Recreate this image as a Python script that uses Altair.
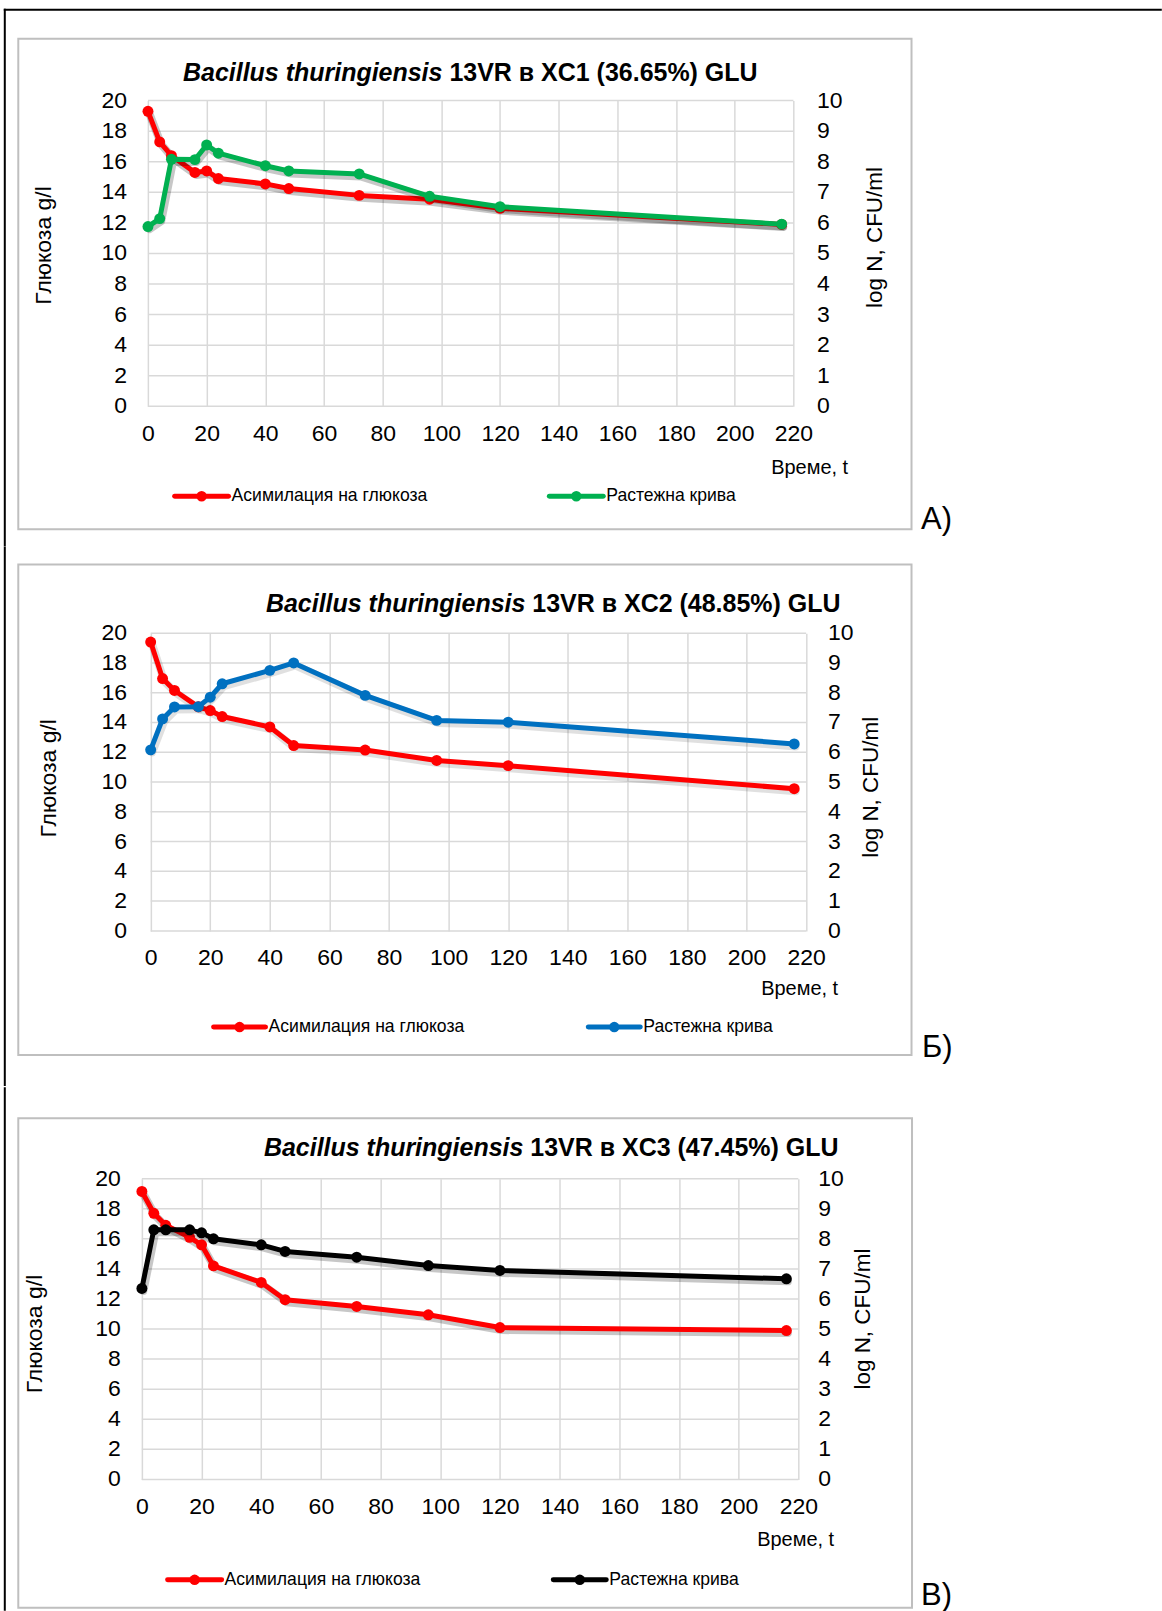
import altair as alt
import pandas as pd

# ---------------- data ----------------
time_h = [0, 4, 8, 16, 20, 24, 40, 48, 72, 96, 120, 216]

glucose_xc1 = [19.3, 17.3, 16.4, 15.3, 15.4, 14.9, 14.55, 14.25, 13.8, 13.55, 12.95, 11.9]
growth_xc1 = [5.88, 6.14, 8.08, 8.07, 8.55, 8.28, 7.87, 7.70, 7.60, 6.87, 6.53, 5.96]

glucose_xc2 = [19.4, 16.95, 16.15, 15.05, 14.8, 14.4, 13.7, 12.45, 12.15, 11.45, 11.1, 9.55]
growth_xc2 = [6.08, 7.12, 7.52, 7.53, 7.85, 8.3, 8.75, 9.0, 7.91, 7.07, 7.01, 6.28]

glucose_xc3 = [19.15, 17.7, 16.9, 16.1, 15.6, 14.2, 13.1, 11.95, 11.5, 10.95, 10.1, 9.9]
growth_xc3 = [6.35, 8.3, 8.3, 8.3, 8.2, 8.0, 7.8, 7.58, 7.39, 7.11, 6.95, 6.67]

x_ticks = [0, 20, 40, 60, 80, 100, 120, 140, 160, 180, 200, 220]
y_left_ticks = [0, 2, 4, 6, 8, 10, 12, 14, 16, 18, 20]
y_right_ticks = [0, 1, 2, 3, 4, 5, 6, 7, 8, 9, 10]

title_italic = ["Bacillus thuringiensis", "Bacillus thuringiensis", "Bacillus thuringiensis"]
title_rest = ["13VR в XC1 (36.65%) GLU", "13VR в XC2 (48.85%) GLU", "13VR в XC3 (47.45%) GLU"]
panel_tags = ["А)", "Б)", "В)"]
series_names = ["Асимилация на глюкоза", "Растежна крива"]
y_left_title = "Глюкоза g/l"
y_right_title = "log N, CFU/ml"
x_title = "Време, t"

glucose_color = "#FF0000"
growth_colors = ["#00B050", "#0070C0", "#000000"]
grid_color = "#D9D9D9"

# ---------------- layout (page pixels) ----------------
FONT = "Liberation Sans"
X0 = 141.2  # common group origin of the three panels
LAYOUT = [
    dict(pl=147.3, pr=793.3, py=100, h=306, box=(17.5, 38, 911.5, 529), seg=(8, 546), top=True,
         title_y=72, title_split=(442, 449), ylab=(43, 245), yrlab=(875, 237), xlab=(771, 468),
         leg_y=496, leg1=(174, 228), leg2=(549, 603), tag=(921, 520), shadow=0.22,
         lpad=21, rpad=23.5),
    dict(pl=150, pr=806, py=632.7, h=298, box=(17.5, 564, 911.5, 1055), seg=(546, 1086), top=False,
         title_y=604, title_split=(525, 532), ylab=(48, 778), yrlab=(871, 787), xlab=(761, 989),
         leg_y=1027, leg1=(213, 265), leg2=(588, 640), tag=(922, 1048), shadow=0.12,
         lpad=23.6, rpad=22),
    dict(pl=141.2, pr=798.2, py=1177.5, h=301, box=(17.5, 1117, 912, 1607), seg=(1086, 1610), top=False,
         title_y=1147, title_split=(523, 530), ylab=(34, 1333), yrlab=(863, 1318), xlab=(757, 1539),
         leg_y=1579, leg1=(167, 221), leg2=(553, 606), tag=(921, 1595), shadow=0.22,
         lpad=21, rpad=20),
]


def build_panel(k, glucose, growth, gcolor):
    L = LAYOUT[k]
    oy = L["py"]
    dx = L["pl"] - X0
    width = L["pr"] - X0

    def X(v):
        return alt.value(v - X0)

    def Y(v):
        return alt.value(v - oy)

    one = pd.DataFrame({"k": [0]})
    df = pd.DataFrame({"t": time_h, "glucose": glucose, "growth": growth})
    left_df = pd.DataFrame({"v": y_left_ticks})
    right_df = pd.DataFrame({"v": y_right_ticks})
    base = alt.Chart(df)

    decor = []
    # page frame (black), drawn as thin filled rects so that their bounds are exact
    decor.append(alt.Chart(one).mark_rect(color="black", opacity=1).encode(
        x=X(3), x2=X(5), y=Y(L["seg"][0]), y2=Y(L["seg"][1])))
    if L["top"]:
        decor.append(alt.Chart(one).mark_rect(color="black", opacity=1).encode(
            x=X(3), x2=X(1162), y=Y(8), y2=Y(10)))
    # chart box
    bx1, by1, bx2, by2 = L["box"]
    decor.append(alt.Chart(one).mark_rect(fillOpacity=0, stroke="#BFBFBF", strokeWidth=2).encode(
        x=X(bx1), x2=X(bx2), y=Y(by1), y2=Y(by2)))
    # title
    decor.append(alt.Chart(one).mark_text(
        text=title_italic[k], font=FONT, fontSize=25, fontWeight="bold", fontStyle="italic",
        align="right", baseline="middle", color="black").encode(
        x=X(L["title_split"][0]), y=Y(L["title_y"])))
    decor.append(alt.Chart(one).mark_text(
        text=title_rest[k], font=FONT, fontSize=25, fontWeight="bold",
        align="left", baseline="middle", color="black").encode(
        x=X(L["title_split"][1]), y=Y(L["title_y"])))
    # axis titles
    decor.append(alt.Chart(one).mark_text(
        text=y_left_title, font=FONT, fontSize=23, angle=270, align="center", baseline="middle",
        color="black").encode(x=X(L["ylab"][0]), y=Y(L["ylab"][1])))
    decor.append(alt.Chart(one).mark_text(
        text=y_right_title, font=FONT, fontSize=22.5, angle=270, align="center", baseline="middle",
        color="black").encode(x=X(L["yrlab"][0]), y=Y(L["yrlab"][1])))
    decor.append(alt.Chart(one).mark_text(
        text=x_title, font=FONT, fontSize=20, align="left", baseline="middle",
        color="black").encode(x=X(L["xlab"][0]), y=Y(L["xlab"][1])))
    # legend
    for (lx1, lx2), col, name in [(L["leg1"], glucose_color, series_names[0]),
                                   (L["leg2"], gcolor, series_names[1])]:
        decor.append(alt.Chart(one).mark_rule(color=col, strokeWidth=5, strokeCap="round").encode(
            x=X(lx1), x2=X(lx2), y=Y(L["leg_y"])))
        decor.append(alt.Chart(one).mark_point(filled=True, size=110, color=col, opacity=1).encode(
            x=X((lx1 + lx2) / 2), y=Y(L["leg_y"])))
        decor.append(alt.Chart(one).mark_text(
            text=name, font=FONT, fontSize=17.6, align="left", baseline="middle", color="black").encode(
            x=X(lx2 + 3), y=Y(L["leg_y"])))
    # panel tag
    decor.append(alt.Chart(one).mark_text(
        text=panel_tags[k], font=FONT, fontSize=31, align="left", baseline="middle", color="black").encode(
        x=X(L["tag"][0]), y=Y(L["tag"][1])))

    x_scale = alt.Scale(domain=[0, 220], nice=False, zero=False, range=[dx, width])
    x_enc = alt.X("t:Q", scale=x_scale,
                  axis=alt.Axis(values=x_ticks, title=None, grid=True, gridColor=grid_color, gridWidth=1.5,
                                domain=False, labelPadding=16, labelOverlap=False, labelFlush=False))
    left_scale = alt.Scale(domain=[0, 20], nice=False)
    right_scale = alt.Scale(domain=[0, 10], nice=False)

    sh = L["shadow"]
    glu_layer = alt.layer(
        # horizontal gridlines, through the left y scale
        alt.Chart(left_df).mark_rule(color=grid_color, strokeWidth=1.5).encode(
            y=alt.Y("v:Q", scale=left_scale, axis=None),
            x=alt.datum(0), x2=alt.datum(220)),
        # left tick labels, through the left y scale
        alt.Chart(left_df).mark_text(font=FONT, fontSize=23, align="right", baseline="middle",
                                     color="black").encode(
            y=alt.Y("v:Q"), x=alt.value(dx - L["lpad"]), text=alt.Text("v:Q")),
        base.mark_line(color="black", opacity=sh, strokeWidth=8, strokeCap="round", strokeJoin="round",
                       xOffset=1.5, yOffset=2.5).encode(x=x_enc, y="glucose:Q"),
        base.mark_line(color=glucose_color, strokeWidth=5, strokeCap="round", strokeJoin="round").encode(
            x="t:Q", y="glucose:Q"),
        base.mark_point(filled=True, size=120, color=glucose_color, opacity=1).encode(x="t:Q", y="glucose:Q"),
    )
    grow_layer = alt.layer(
        # right tick labels, through the right y scale
        alt.Chart(right_df).mark_text(font=FONT, fontSize=23, align="left", baseline="middle",
                                      color="black").encode(
            y=alt.Y("v:Q", scale=right_scale, axis=None), x=alt.value(width + L["rpad"]),
            text=alt.Text("v:Q")),
        base.mark_line(color="black", opacity=sh, strokeWidth=8, strokeCap="round", strokeJoin="round",
                       xOffset=1.5, yOffset=2.5).encode(x="t:Q", y="growth:Q"),
        base.mark_line(color=gcolor, strokeWidth=5, strokeCap="round", strokeJoin="round").encode(
            x="t:Q", y="growth:Q"),
        base.mark_point(filled=True, size=120, color=gcolor, opacity=1).encode(x="t:Q", y="growth:Q"),
    )
    return alt.layer(*decor, glu_layer, grow_layer).resolve_scale(y="independent").properties(
        width=width, height=L["h"])


pA = build_panel(0, glucose_xc1, growth_xc1, growth_colors[0])
pB = build_panel(1, glucose_xc2, growth_xc2, growth_colors[1])
pC = build_panel(2, glucose_xc3, growth_xc3, growth_colors[2])

chart = alt.vconcat(pA, pB, pC, spacing=0).properties(
    padding={"left": 3, "top": 8, "right": 0, "bottom": 0},
    background="white",
).configure_view(strokeWidth=0).configure_axis(
    labelFont=FONT, labelFontSize=23, labelColor="black", ticks=False, tickSize=0,
    domain=False, labelFlush=False, labelOverlap=False,
)

chart.save("out.html", embed_options={"renderer": "svg", "actions": False})
